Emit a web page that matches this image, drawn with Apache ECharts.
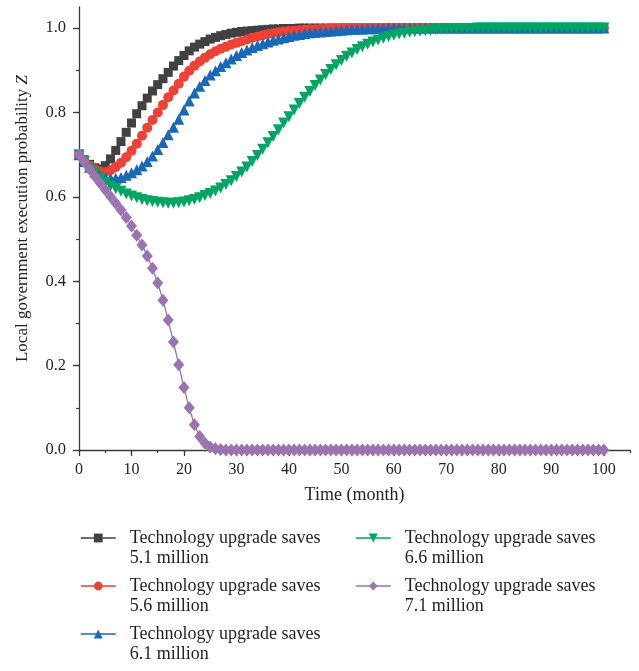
<!DOCTYPE html>
<html>
<head>
<meta charset="utf-8">
<script src="https://cdn.jsdelivr.net/npm/echarts@6/dist/echarts.min.js"></script>
<style>
html,body{margin:0;padding:0;background:#fff;}
#chart{width:639px;height:671px;}
</style>
</head>
<body>
<div id="chart"></div>
<script>
// Time (month), t = 0 .. 100
const months = [0,1,2,3,4,5,6,7,8,9,10,11,12,13,14,15,16,17,18,19,20,21,22,23,24,25,26,27,28,29,30,31,32,33,34,35,36,37,38,39,40,41,42,43,44,45,46,47,48,49,50,51,52,53,54,55,56,57,58,59,60,61,62,63,64,65,66,67,68,69,70,71,72,73,74,75,76,77,78,79,80,81,82,83,84,85,86,87,88,89,90,91,92,93,94,95,96,97,98,99,100];

const names = [
  'Technology upgrade saves\n5.1 million',
  'Technology upgrade saves\n5.6 million',
  'Technology upgrade saves\n6.1 million',
  'Technology upgrade saves\n6.6 million',
  'Technology upgrade saves\n7.1 million'
];

const saves51 = [
  0.700,0.688,0.677,0.669,0.666,0.674,0.690,0.710,0.731,0.753,
  0.775,0.797,0.816,0.834,0.851,0.866,0.880,0.895,0.910,0.923,
  0.935,0.946,0.955,0.962,0.968,0.974,0.978,0.982,0.985,0.988,
  0.990,0.992,0.993,0.994,0.995,0.996,0.997,0.998,0.998,0.999,
  0.999,0.999,1.000,1.000,1.000,1.000,1.000,1.000,1.000,1.000,
  1.000,1.000,1.000,1.000,1.000,1.000,1.000,1.000,1.000,1.000,
  1.000,1.000,1.000,1.000,1.000,1.000,1.000,1.000,1.000,1.000,
  1.000,1.000,1.000,1.000,1.000,1.000,1.000,1.000,1.000,1.000,
  1.000,1.000,1.000,1.000,1.000,1.000,1.000,1.000,1.000,1.000,
  1.000,1.000,1.000,1.000,1.000,1.000,1.000,1.000,1.000,1.000,
  1.000
];

const saves56 = [
  0.700,0.686,0.674,0.665,0.660,0.659,0.663,0.671,0.681,0.694,
  0.709,0.726,0.745,0.764,0.782,0.800,0.818,0.836,0.852,0.868,
  0.885,0.899,0.911,0.921,0.930,0.938,0.945,0.951,0.956,0.961,
  0.965,0.969,0.973,0.977,0.980,0.983,0.986,0.988,0.990,0.992,
  0.993,0.994,0.995,0.996,0.997,0.997,0.998,0.998,0.999,0.999,
  1.000,1.000,1.000,1.000,1.000,1.000,1.000,1.000,1.000,1.000,
  1.000,1.000,1.000,1.000,1.000,1.000,1.000,1.000,1.000,1.000,
  1.000,1.000,1.000,1.000,1.000,1.000,1.000,1.000,1.000,1.000,
  1.000,1.000,1.000,1.000,1.000,1.000,1.000,1.000,1.000,1.000,
  1.000,1.000,1.000,1.000,1.000,1.000,1.000,1.000,1.000,1.000,
  1.000
];

const saves61 = [
  0.700,0.684,0.670,0.659,0.651,0.646,0.644,0.644,0.646,0.651,
  0.657,0.664,0.673,0.684,0.697,0.712,0.729,0.747,0.765,0.784,
  0.806,0.827,0.846,0.862,0.876,0.889,0.899,0.909,0.918,0.927,
  0.935,0.942,0.948,0.954,0.959,0.963,0.967,0.971,0.974,0.977,
  0.980,0.983,0.985,0.987,0.989,0.990,0.991,0.992,0.993,0.994,
  0.995,0.996,0.997,0.997,0.998,0.998,0.999,0.999,0.999,1.000,
  1.000,1.000,1.000,1.000,1.000,1.000,1.000,1.000,1.000,1.000,
  1.000,1.000,1.000,1.000,1.000,1.000,1.000,1.000,1.000,1.000,
  1.000,1.000,1.000,1.000,1.000,1.000,1.000,1.000,1.000,1.000,
  1.000,1.000,1.000,1.000,1.000,1.000,1.000,1.000,1.000,1.000,
  1.000
];

const saves66 = [
  0.700,0.684,0.668,0.655,0.643,0.634,0.626,0.619,0.613,0.607,
  0.602,0.598,0.594,0.591,0.589,0.587,0.586,0.585,0.585,0.586,
  0.588,0.591,0.594,0.598,0.603,0.608,0.614,0.621,0.629,0.638,
  0.648,0.659,0.671,0.684,0.698,0.713,0.728,0.743,0.759,0.775,
  0.790,0.806,0.821,0.836,0.850,0.864,0.877,0.890,0.902,0.913,
  0.923,0.933,0.941,0.949,0.956,0.962,0.967,0.972,0.976,0.980,
  0.983,0.986,0.988,0.990,0.992,0.993,0.994,0.995,0.996,0.997,
  0.997,0.998,0.998,0.999,0.999,0.999,1.000,1.000,1.000,1.000,
  1.000,1.000,1.000,1.000,1.000,1.000,1.000,1.000,1.000,1.000,
  1.000,1.000,1.000,1.000,1.000,1.000,1.000,1.000,1.000,1.000,
  1.000
];

const saves71 = [
  0.700,0.683,0.666,0.649,0.633,0.617,0.601,0.585,0.569,0.551,
  0.531,0.509,0.486,0.460,0.431,0.396,0.355,0.308,0.256,0.202,
  0.148,0.100,0.060,0.032,0.016,0.007,0.003,0.001,0.000,0.000,
  0.000,0.000,0.000,0.000,0.000,0.000,0.000,0.000,0.000,0.000,
  0.000,0.000,0.000,0.000,0.000,0.000,0.000,0.000,0.000,0.000,
  0.000,0.000,0.000,0.000,0.000,0.000,0.000,0.000,0.000,0.000,
  0.000,0.000,0.000,0.000,0.000,0.000,0.000,0.000,0.000,0.000,
  0.000,0.000,0.000,0.000,0.000,0.000,0.000,0.000,0.000,0.000,
  0.000,0.000,0.000,0.000,0.000,0.000,0.000,0.000,0.000,0.000,
  0.000,0.000,0.000,0.000,0.000,0.000,0.000,0.000,0.000,0.000,
  0.000
];

const xMajorTicks = [0,10,20,30,40,50,60,70,80,90,100];
const xMinorTicks = [0,5,10,15,20,25,30,35,40,45,50,55,60,65,70,75,80,85,90,95,100,105];
const yMajorTicks = [0,0.2,0.4,0.6,0.8,1.0];
const yMinorTicks = [0,0.1,0.2,0.3,0.4,0.5,0.6,0.7,0.8,0.9,1.0];

const FONT = '"Liberation Serif", "DejaVu Serif", serif';
const AX = '#3a3a3a';
const TXT = '#231f20';

const colors = ['#414141', '#ef4136', '#1b68b6', '#00a463', '#9b73b1'];
const symbols = ['rect', 'circle', 'triangle', 'triangle', 'diamond'];
const symbolSizes = [9, 10, 11, 11, [11, 13]];
const lineWidths = [1, 1, 1, 1, 1.3];
const rotates = [0, 0, 0, 180, 0];
const valueSets = [saves51, saves56, saves61, saves66, saves71];

const series = valueSets.map((vals, i) => ({
  name: names[i],
  type: 'line',
  xAxisIndex: 0,
  yAxisIndex: 0,
  data: months.map((t, k) => [t, vals[k]]),
  symbol: symbols[i],
  symbolSize: symbolSizes[i],
  symbolRotate: rotates[i],
  showAllSymbol: true,
  clip: false,
  color: colors[i],
  itemStyle: { color: colors[i], opacity: 1 },
  lineStyle: { color: colors[i], width: lineWidths[i] },
  emphasis: { disabled: true },
  animation: false
}));

const legendPos = [
  { left: 80, top: 508 },
  { left: 80, top: 556 },
  { left: 80, top: 604 },
  { left: 355, top: 508 },
  { left: 355, top: 556 }
];

const legends = names.map((n, i) => ({
  data: [n],
  orient: 'vertical',
  left: legendPos[i].left,
  top: legendPos[i].top,
  padding: 0,
  itemWidth: 35,
  itemHeight: 11,
  selectedMode: false,
  formatter: name => ' \n' + name,
  lineStyle: { width: 1.5 },
  textStyle: {
    fontFamily: FONT,
    fontSize: 18,
    color: TXT,
    lineHeight: 20,
    padding: [0, 0, 0, 9]
  }
}));

const chart = echarts.init(document.getElementById('chart'), null, { renderer: 'canvas' });
chart.setOption({
  animation: false,
  backgroundColor: '#fff',
  grid: { left: 79, right: 9, top: 7, bottom: 221, containLabel: false },
  legend: legends,
  xAxis: [
    {
      type: 'value', min: 0, max: 105, interval: 10, position: 'bottom',
      name: 'Time (month)', nameLocation: 'middle', nameGap: 36,
      nameTextStyle: { fontFamily: FONT, fontSize: 18, color: TXT },
      axisLine: { show: true, lineStyle: { color: AX, width: 1.3 } },
      axisTick: { show: true, inside: false, length: 6, customValues: xMajorTicks, lineStyle: { color: AX, width: 1.3 } },
      axisLabel: { customValues: xMajorTicks, margin: 12, fontFamily: FONT, fontSize: 16, color: TXT },
      splitLine: { show: false }
    },
    {
      type: 'value', min: 0, max: 105, interval: 5, position: 'bottom',
      axisLine: { show: false },
      axisTick: { show: true, inside: false, length: 3, customValues: xMinorTicks, lineStyle: { color: AX, width: 1.2 } },
      axisLabel: { show: false },
      splitLine: { show: false }
    }
  ],
  yAxis: [
    {
      type: 'value', min: 0, max: 1.05, interval: 0.2, position: 'left',
      name: '{n|Local government execution probability }{z|Z}',
      nameLocation: 'middle', nameGap: 48, nameRotate: 90,
      nameTextStyle: {
        fontFamily: FONT, fontSize: 17, color: TXT,
        padding: [0, 0, 0, 20],
        rich: {
          n: { fontFamily: FONT, fontSize: 17, color: TXT },
          z: { fontFamily: FONT, fontSize: 17, color: TXT, fontStyle: 'italic' }
        }
      },
      axisLine: { show: true, lineStyle: { color: AX, width: 1.3 } },
      axisTick: { show: true, inside: false, length: 6, customValues: yMajorTicks, lineStyle: { color: AX, width: 1.3 } },
      axisLabel: { customValues: yMajorTicks, margin: 13, fontFamily: FONT, fontSize: 16.5, color: TXT,
        formatter: v => Number(v).toFixed(1) },
      splitLine: { show: false }
    },
    {
      type: 'value', min: 0, max: 1.05, interval: 0.1, position: 'left',
      axisLine: { show: false },
      axisTick: { show: true, inside: false, length: 3, customValues: yMinorTicks, lineStyle: { color: AX, width: 1.2 } },
      axisLabel: { show: false },
      splitLine: { show: false }
    }
  ],
  series: series
});
</script>
</body>
</html>
